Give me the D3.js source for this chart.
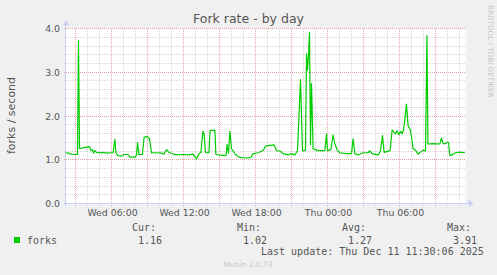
<!DOCTYPE html>
<html>
<head>
<meta charset="utf-8">
<script src="https://cdn.jsdelivr.net/npm/d3@7"></script>
<style>
  body { margin: 0; background: #f0f0f0; }
  svg { display: block; }
</style>
</head>
<body>
<div id="chart"></div>
<script>
// Data: minutes after Wed 10 Dec 02:10, and forks per second
var minutesFromStart = [0, 13, 30, 47, 60, 65, 70, 88, 105, 120, 127, 135, 140, 147, 155, 172, 188, 205, 222, 238,
  247, 252, 260, 277, 293, 313, 322, 347, 355, 360, 367, 385, 393, 407, 420, 430, 455, 480, 493, 505,
  517, 538, 563, 588, 613, 638, 655, 667, 677, 687, 693, 700, 717, 723, 747, 752, 780, 803, 808, 815,
  822, 830, 838, 850, 867, 897, 927, 938, 963, 988, 1000, 1022, 1043, 1055, 1072, 1088, 1113, 1130, 1147, 1160,
  1175, 1185, 1200, 1205, 1210, 1215, 1220, 1225, 1230, 1238, 1263, 1297, 1305, 1310, 1327, 1338, 1347, 1360, 1372, 1405,
  1430, 1438, 1447, 1463, 1488, 1513, 1522, 1533, 1563, 1575, 1585, 1593, 1610, 1623, 1633, 1642, 1650, 1658, 1667, 1675,
  1683, 1690, 1698, 1705, 1713, 1723, 1730, 1738, 1750, 1763, 1777, 1788, 1800, 1807, 1812, 1838, 1872, 1880, 1888, 1900,
  1908, 1915, 1922, 1933, 1950, 1967, 1980, 1997];
var forks = [1.16, 1.15, 1.13, 1.12, 1.12, 3.73, 1.26, 1.27, 1.29, 1.30, 1.21, 1.23, 1.15, 1.21, 1.17, 1.16, 1.17, 1.15, 1.16, 1.16,
  1.46, 1.16, 1.10, 1.08, 1.12, 1.12, 1.06, 1.06, 1.10, 1.39, 1.12, 1.12, 1.52, 1.53, 1.48, 1.16, 1.16, 1.15, 1.13, 1.23,
  1.17, 1.13, 1.11, 1.12, 1.11, 1.13, 1.02, 1.13, 1.17, 1.65, 1.59, 1.16, 1.16, 1.67, 1.67, 1.12, 1.10, 1.10, 1.35, 1.15,
  1.65, 1.25, 1.20, 1.12, 1.06, 1.04, 1.05, 1.14, 1.16, 1.21, 1.31, 1.33, 1.34, 1.21, 1.20, 1.14, 1.11, 1.14, 1.11, 1.21,
  2.83, 1.20, 1.22, 3.42, 3.05, 3.40, 3.91, 1.35, 2.74, 1.25, 1.21, 1.21, 1.59, 1.21, 1.23, 1.57, 1.36, 1.21, 1.16, 1.14,
  1.14, 1.48, 1.14, 1.11, 1.16, 1.16, 1.20, 1.14, 1.11, 1.20, 1.55, 1.17, 1.19, 1.21, 1.68, 1.63, 1.59, 1.66, 1.57, 1.65,
  1.59, 1.68, 1.97, 2.27, 1.78, 1.70, 1.52, 1.25, 1.22, 1.13, 1.18, 1.22, 1.20, 3.84, 1.36, 1.37, 1.36, 1.50, 1.37, 1.37,
  1.40, 1.40, 1.10, 1.11, 1.16, 1.17, 1.17, 1.16];

var yTickValues = [0, 1, 2, 3, 4];
var statLabels = ["Cur:", "Min:", "Avg:", "Max:"];
var statValues = ["1.16", "1.02", "1.27", "3.91"];

var startTime = new Date(2025, 11, 10, 2, 10);
var endTime = new Date(startTime.getTime() + 2000 * 60000);

var svgWidth = 497;
var svgHeight = 275;
var plotLeft = 65.5, plotRight = 465.5, plotTop = 28.5, plotBottom = 203.5;

var svg = d3.select("#chart")
  .append("svg")
  .attr("width", svgWidth)
  .attr("height", svgHeight)
  .style("font-family", "'DejaVu Sans', sans-serif");

svg.append("rect")
  .attr("width", svgWidth)
  .attr("height", svgHeight)
  .attr("fill", "#f0f0f0");

// Scales
var xScale = d3.scaleTime().domain([startTime, endTime]).range([plotLeft, plotRight]);
var yScale = d3.scaleLinear().domain([0, 4]).range([plotBottom, plotTop]);

// Canvas
svg.append("rect")
  .attr("x", plotLeft)
  .attr("y", plotTop)
  .attr("width", plotRight - plotLeft)
  .attr("height", plotBottom - plotTop)
  .attr("fill", "#ffffff");

var grid = svg.append("g").attr("shape-rendering", "crispEdges");
var px = v => Math.floor(v) + 0.5;

// minor grid
var hours = xScale.ticks(d3.timeHour.every(1));
var minorY = d3.range(0, 4.01, 0.2);
grid.selectAll(".vminor")
  .data(hours.filter(d => d.getHours() % 3 != 0))
  .enter().append("line")
  .attr("x1", d => px(xScale(d))).attr("x2", d => px(xScale(d)))
  .attr("y1", plotTop).attr("y2", plotBottom + 2)
  .attr("stroke", "#d6d6d6").attr("stroke-dasharray", "1,1");
grid.selectAll(".hminor")
  .data(minorY.filter(d => Math.abs(d - Math.round(d)) > 0.01))
  .enter().append("line")
  .attr("x1", plotLeft - 2).attr("x2", plotRight)
  .attr("y1", d => px(yScale(d))).attr("y2", d => px(yScale(d)))
  .attr("stroke", "#d6d6d6").attr("stroke-dasharray", "1,1");

// major grid
grid.selectAll(".vmajor")
  .data(hours.filter(d => d.getHours() % 3 == 0))
  .enter().append("line")
  .attr("x1", d => px(xScale(d))).attr("x2", d => px(xScale(d)))
  .attr("y1", plotTop).attr("y2", plotBottom + 2)
  .attr("stroke", "#e2a5a5").attr("stroke-dasharray", "1,1");
grid.selectAll(".hmajor")
  .data(yTickValues)
  .enter().append("line")
  .attr("x1", plotLeft - 2).attr("x2", plotRight)
  .attr("y1", d => px(yScale(d))).attr("y2", d => px(yScale(d)))
  .attr("stroke", "#e2a5a5").attr("stroke-dasharray", "1,1");

// axes lines + arrows
grid.append("line")
  .attr("x1", px(plotLeft)).attr("x2", px(plotLeft))
  .attr("y1", plotBottom + 2).attr("y2", plotTop - 4)
  .attr("stroke", "#c8cff5");
grid.append("line")
  .attr("x1", plotLeft - 2).attr("x2", plotRight + 4)
  .attr("y1", px(plotBottom)).attr("y2", px(plotBottom))
  .attr("stroke", "#c8cff5");
svg.append("path")
  .attr("d", `M${plotLeft - 3},${plotTop - 3} L${plotLeft + 4},${plotTop - 3} L${plotLeft + 0.5},${plotTop - 8} Z`)
  .attr("fill", "#c8cff5");
svg.append("path")
  .attr("d", `M${plotRight + 3},${plotBottom - 4} L${plotRight + 3},${plotBottom + 4} L${plotRight + 8},${plotBottom} Z`)
  .attr("fill", "#c8cff5");

// series
var points = minutesFromStart.map((m, i) => ({ t: new Date(startTime.getTime() + m * 60000), v: forks[i] }));
var line = d3.line().x(d => xScale(d.t)).y(d => yScale(d.v));
svg.append("path")
  .datum(points)
  .attr("d", line)
  .attr("fill", "none")
  .attr("stroke", "#00cc00")
  .attr("stroke-width", 1.2)
  .attr("stroke-linejoin", "round");

// y tick labels
svg.selectAll(".ylab")
  .data(yTickValues)
  .enter().append("text")
  .attr("x", 60)
  .attr("y", d => yScale(d) + 3.5)
  .attr("text-anchor", "end")
  .attr("font-size", "9.33px")
  .attr("fill", "#555")
  .text(d => d3.format(".1f")(d));

// x tick labels
var fmt = d3.timeFormat("%a %H:%M");
svg.selectAll(".xlab")
  .data(hours.filter(d => d.getHours() % 6 == 0))
  .enter().append("text")
  .attr("x", d => xScale(d) + 1)
  .attr("y", 216)
  .attr("text-anchor", "middle")
  .attr("font-size", "9.33px")
  .attr("fill", "#555")
  .text(d => fmt(d));

// title
svg.append("text")
  .attr("x", 248.5).attr("y", 23)
  .attr("text-anchor", "middle")
  .attr("font-size", "12.5px")
  .attr("fill", "#555")
  .text("Fork rate - by day");

// y title
svg.append("text")
  .attr("transform", "translate(15,115.5) rotate(-90)")
  .attr("text-anchor", "middle")
  .attr("font-size", "11px")
  .attr("fill", "#555")
  .text("forks / second");

// watermark
svg.append("text")
  .attr("transform", "translate(488,5) rotate(90)")
  .attr("font-size", "7.2px")
  .attr("fill", "#c8c8c8")
  .text("RRDTOOL / TOBI OETIKER");

// legend
var mono = "'DejaVu Sans Mono', monospace";
svg.append("rect")
  .attr("x", 14).attr("y", 237).attr("width", 6).attr("height", 6)
  .attr("fill", "#00cc00");
svg.append("text")
  .attr("x", 27).attr("y", 243.5)
  .attr("font-family", mono).attr("font-size", "10px").attr("fill", "#555")
  .text("forks");
var statX = [132, 237, 342, 447];
svg.selectAll(".slab")
  .data(statLabels)
  .enter().append("text")
  .attr("x", (d, i) => statX[i]).attr("y", 231)
  .attr("font-family", mono).attr("font-size", "10px").attr("fill", "#555")
  .text(d => d);
svg.selectAll(".sval")
  .data(statValues)
  .enter().append("text")
  .attr("x", (d, i) => statX[i] + 6).attr("y", 243.5)
  .attr("font-family", mono).attr("font-size", "10px").attr("fill", "#555")
  .text(d => d);
svg.append("text")
  .attr("x", 261).attr("y", 255)
  .attr("font-family", mono).attr("font-size", "10px").attr("fill", "#555")
  .text("Last update: Thu Dec 11 11:30:06 2025");
svg.append("text")
  .attr("x", 248).attr("y", 266.5)
  .attr("text-anchor", "middle")
  .attr("font-size", "7.5px").attr("fill", "#c8c8c8")
  .text("Munin 2.0.73");
</script>
</body>
</html>
